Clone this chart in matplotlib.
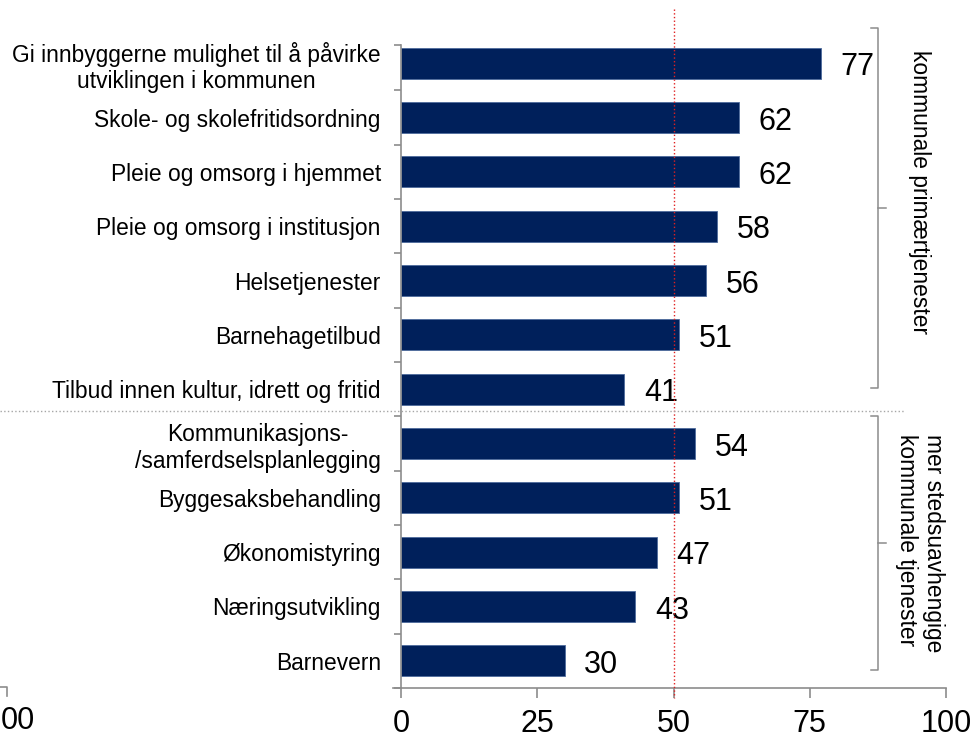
import numpy as np
import matplotlib
matplotlib.use("Agg")
import matplotlib.pyplot as plt
from matplotlib.lines import Line2D
import matplotlib.transforms as mtrans

plt.rcParams['font.family'] = ['Liberation Sans', 'DejaVu Sans']

# data, top to bottom
labels = ["Gi innbyggerne mulighet til å påvirke\nutviklingen i kommunen",
          "Skole- og skolefritidsordning",
          "Pleie og omsorg i hjemmet",
          "Pleie og omsorg i institusjon",
          "Helsetjenester",
          "Barnehagetilbud",
          "Tilbud innen kultur, idrett og fritid",
          "Kommunikasjons-\n/samferdselsplanlegging",
          "Byggesaksbehandling",
          "Økonomistyring",
          "Næringsutvikling",
          "Barnevern"]
values = [77, 62, 62, 58, 56, 51, 41, 54, 51, 47, 43, 30]
xticks = [0, 25, 50, 75, 100]
group_names = ["kommunale primærtjenester", "mer stedsuavhengige\nkommunale tjenester"]
threshold = 50

W, H = 973, 738
grey = '#8c8c8c'

def px(x, y):       #pixel position (from top left) -> figure fraction
    return x / W, 1 - y / H

fig = plt.figure(figsize=(W / 100, H / 100), dpi=100)
ax = fig.add_axes([401 / W, 50 / H, 545 / W, 652 / H])

y = np.arange(len(values))
ax.barh(y, values, height=0.57, color='#00205b', edgecolor='#4d6b9c', linewidth=0.6, zorder=2)
for yi, v in zip(y, values):        #value labels
    ax.annotate(str(v), (v, yi), xytext=(14, -3), textcoords='offset points',
                va='center', ha='left', fontsize=22, zorder=3)

ax.set_xlim(0, 100)
ax.set_ylim(len(values) - 0.5, -0.5)
ax.set_xticks(xticks)
ax.set_xticklabels([str(t) for t in xticks], fontsize=22)
ax.set_yticks(y)
ax.set_yticklabels(labels, fontsize=16.4, multialignment='center')
ax.set_yticks(np.concatenate([[-0.33], np.arange(0.5, len(values), 1.0)]), minor=True)
ax.tick_params(axis='y', which='major', length=0, pad=14.5)
ax.tick_params(axis='y', which='minor', length=5, color=grey, width=1.2, direction='out')
ax.tick_params(axis='x', length=7, color=grey, width=1.2, direction='out', pad=8)
for s in ['top', 'right']:
    ax.spines[s].set_visible(False)
for s in ['left', 'bottom']:
    ax.spines[s].set_color(grey)
    ax.spines[s].set_linewidth(1.2)
ax.spines['left'].set_bounds(len(values) - 0.5, -0.33)
ax.add_line(Line2D([-0.015, 0], [0, 0], transform=ax.transAxes, color=grey, lw=1.2, clip_on=False))

# red reference line at 50
tr = mtrans.blended_transform_factory(ax.transData, fig.transFigure)
ax.add_line(Line2D([threshold, threshold], [1 - 9 / H, 1 - 698 / H], transform=tr,
                   color='#e02020', lw=1, ls=':', clip_on=False, zorder=4))

# grey dotted separator between the two groups
tr2 = mtrans.blended_transform_factory(fig.transFigure, ax.transData)
fig.add_artist(Line2D([0, 905 / W], [6.4, 6.4], transform=tr2, color='#a6a6a6', lw=1, ls=':'))

# brackets on the right
def bracket(y0, y1, text, ty):
    xs = [871, 878, 878, 871]
    ys = [y0, y0, y1, y1]
    fig.add_artist(Line2D([px(a, b)[0] for a, b in zip(xs, ys)], [px(a, b)[1] for a, b in zip(xs, ys)],
                          color=grey, lw=1.1))
    ym = (y0 + y1) / 2
    fig.add_artist(Line2D([px(878, ym)[0], px(886, ym)[0]], [px(878, ym)[1]] * 2, color=grey, lw=1.1))
    fig.text(*px(920, ty), text, rotation=270, ha='center', va='center', fontsize=16.4,
             multialignment='left')

bracket(28, 388, group_names[0], 192)
bracket(416, 670, group_names[1], 543)

# piece of a neighbouring axis showing at the left edge (only "00" of its 100 is visible)
fig.add_artist(Line2D([0, 7 / W, 7 / W], [1 - 687 / H, 1 - 687 / H, 1 - 696 / H], color=grey, lw=1.2))
fig.text(*px(1, 706), "00", ha='left', va='top', fontsize=22)

fig.savefig("out.png", dpi=100)
